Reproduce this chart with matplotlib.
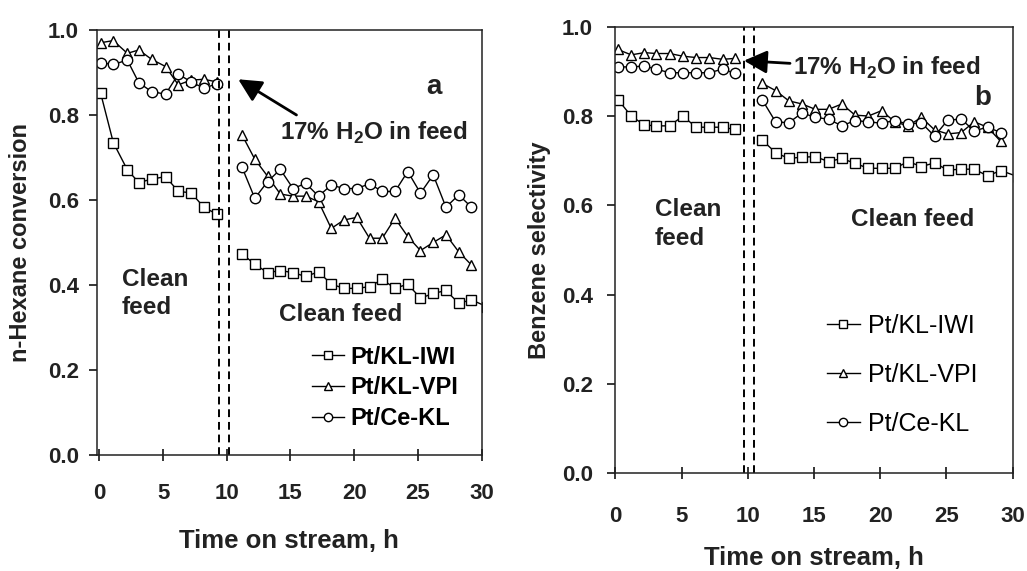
import matplotlib
matplotlib.use("Agg")
import matplotlib.pyplot as plt

plt.rcParams['font.family'] = ['Liberation Sans', 'DejaVu Sans']
plt.rcParams['mathtext.fontset'] = 'custom'
plt.rcParams['mathtext.rm'] = 'Liberation Sans'
plt.rcParams['mathtext.bf'] = 'Liberation Sans:bold'

# ---- (a) n-hexane conversion ----
t_a1 = [0.1, 1.1, 2.2, 3.1, 4.1, 5.2, 6.2, 7.2, 8.2, 9.2]
t_a2 = [11.2, 12.2, 13.2, 14.2, 15.2, 16.2, 17.2, 18.2, 19.2, 20.2,
        21.2, 22.2, 23.2, 24.2, 25.2, 26.2, 27.2, 28.2, 29.2]
t_a2_iwi = t_a2 + [30.4]

conv_iwi_1 = [0.852, 0.735, 0.671, 0.641, 0.649, 0.655, 0.620, 0.617, 0.583, 0.567]
conv_vpi_1 = [0.970, 0.975, 0.945, 0.953, 0.931, 0.914, 0.871, 0.882, 0.884, 0.878]
conv_ce_1 = [0.923, 0.919, 0.929, 0.876, 0.855, 0.849, 0.896, 0.878, 0.863, 0.873]

conv_iwi_2 = [0.473, 0.449, 0.429, 0.434, 0.429, 0.420, 0.431, 0.402, 0.392, 0.392,
              0.396, 0.413, 0.392, 0.402, 0.369, 0.380, 0.387, 0.357, 0.365, 0.349]
conv_vpi_2 = [0.753, 0.696, 0.656, 0.614, 0.609, 0.609, 0.596, 0.533, 0.553, 0.559,
              0.510, 0.510, 0.557, 0.514, 0.481, 0.500, 0.518, 0.478, 0.447]
conv_ce_2 = [0.677, 0.604, 0.643, 0.672, 0.627, 0.639, 0.609, 0.635, 0.627, 0.627,
             0.638, 0.620, 0.620, 0.667, 0.616, 0.659, 0.583, 0.612, 0.583]

# ---- (b) benzene selectivity ----
t_b1 = [0.2, 1.2, 2.2, 3.1, 4.1, 5.1, 6.1, 7.1, 8.1, 9.0]
t_b2 = [11.1, 12.1, 13.1, 14.1, 15.1, 16.1, 17.1, 18.1, 19.1, 20.1,
        21.1, 22.1, 23.1, 24.1, 25.1, 26.1, 27.1, 28.1, 29.1]
t_b2_iwi = t_b2 + [30.5]

sel_iwi_1 = [0.837, 0.800, 0.780, 0.778, 0.778, 0.800, 0.775, 0.775, 0.775, 0.770]
sel_vpi_1 = [0.949, 0.937, 0.942, 0.940, 0.940, 0.934, 0.931, 0.931, 0.927, 0.929]
sel_ce_1 = [0.910, 0.910, 0.912, 0.905, 0.897, 0.897, 0.897, 0.897, 0.905, 0.896]

sel_iwi_2 = [0.746, 0.718, 0.705, 0.708, 0.709, 0.698, 0.705, 0.694, 0.683, 0.683,
             0.683, 0.698, 0.687, 0.695, 0.679, 0.681, 0.681, 0.666, 0.678, 0.663]
sel_vpi_2 = [0.873, 0.857, 0.834, 0.827, 0.815, 0.815, 0.827, 0.802, 0.800, 0.812,
             0.787, 0.778, 0.797, 0.769, 0.760, 0.763, 0.787, 0.775, 0.743]
sel_ce_2 = [0.836, 0.787, 0.785, 0.807, 0.797, 0.793, 0.778, 0.790, 0.787, 0.784,
            0.790, 0.782, 0.785, 0.755, 0.791, 0.793, 0.767, 0.775, 0.763]

labels = ['Pt/KL-IWI', 'Pt/KL-VPI', 'Pt/Ce-KL']
markers = ['s', '^', 'o']
x_ticks = [0, 5, 10, 15, 20, 25, 30]
y_ticks = [0.0, 0.2, 0.4, 0.6, 0.8, 1.0]
y_ticklabels = ['0.0', '0.2', '0.4', '0.6', '0.8', '1.0']

water_a = (9.4, 10.2)
water_b = (9.7, 10.5)

style = dict(color='black', lw=1.0, mfc='white', mec='black', mew=1.0)
msize = {'s': 6.5, '^': 7.5, 'o': 7.5}

fig = plt.figure(figsize=(10.27, 5.71), dpi=100)
axL = fig.add_axes([0.0942, 0.2032, 0.3748, 0.7443])
axR = fig.add_axes([0.5991, 0.1711, 0.3870, 0.7821])


def draw_series(ax, t1, t2, t2_iwi, s1, s2):
    handles = []
    for i, (m, a, b) in enumerate(zip(markers, s1, s2)):
        tt2 = t2_iwi if i == 0 else t2
        h, = ax.plot(t1, a, marker=m, ms=msize[m], label=labels[i], **style)
        ax.plot(tt2, b, marker=m, ms=msize[m], **style)
        handles.append(h)
    return handles


def frame(ax, xlim, xpad, ypad):
    ax.set_xlim(*xlim)
    ax.set_ylim(0, 1.0)
    ax.set_xticks(x_ticks)
    ax.set_yticks(y_ticks)
    ax.set_yticklabels(y_ticklabels)
    for s in ax.spines.values():
        s.set_linewidth(1.1)
        s.set_color('#222222')
    ax.tick_params(axis='x', direction='inout', length=9, width=1.1,
                   pad=xpad, labelsize=16)
    ax.tick_params(axis='y', direction='out', length=6, width=1.1,
                   pad=ypad, labelsize=16)
    for lab in ax.get_xticklabels() + ax.get_yticklabels():
        lab.set_fontweight('bold')
        lab.set_color('#222222')


# ---------------- left panel ----------------
hL = draw_series(axL, t_a1, t_a2, t_a2_iwi,
                 [conv_iwi_1, conv_vpi_1, conv_ce_1],
                 [conv_iwi_2, conv_vpi_2, conv_ce_2])
for xv in water_a:
    axL.axvline(xv, color='black', lw=1.4, ls=(0, (4, 2.5)))
frame(axL, (-0.2, 30), 16, 7)
axL.set_xlabel('Time on stream, h', fontsize=18.5, fontweight='bold', color='#222222')
axL.xaxis.set_label_coords(0.5, -0.174)
axL.set_ylabel('n-Hexane conversion', fontsize=17, fontweight='bold', color='#222222')
axL.yaxis.set_label_coords(-0.168, 0.5)

tk = dict(fontsize=17.5, fontweight='bold', color='#222222')
axL.text(1.76, 0.38, 'Clean\nfeed', ha='left', va='center', linespacing=1.3, **tk)
axL.text(14.1, 0.33, 'Clean feed', ha='left', va='center', **tk)
axL.text(26.25, 0.866, 'a', ha='center', va='center', fontsize=20,
         fontweight='bold', color='#222222')
axL.text(14.2, 0.758, r'17% H$_\mathbf{2}$O in feed', ha='left', va='center', **tk)
axL.annotate('', xy=(10.9, 0.884), xytext=(15.47, 0.80),
             arrowprops=dict(arrowstyle='-|>,head_length=1.0,head_width=0.5',
                             color='black', lw=2.0, mutation_scale=14,
                             shrinkA=0, shrinkB=0))
axL.legend(handles=hL, loc='upper left', bbox_to_anchor=(0.528, 0.285),
           frameon=False, borderpad=0, handlelength=1.35, handletextpad=0.3,
           labelspacing=0.33, markerscale=0.8,
           prop=dict(family='Liberation Sans', weight='bold', size=17))

# ---------------- right panel ----------------
hR = draw_series(axR, t_b1, t_b2, t_b2_iwi,
                 [sel_iwi_1, sel_vpi_1, sel_ce_1],
                 [sel_iwi_2, sel_vpi_2, sel_ce_2])
for xv in water_b:
    axR.axvline(xv, color='black', lw=1.4, ls=(0, (4, 2.5)))
frame(axR, (0, 30), 19, 10)
axR.set_xlabel('Time on stream, h', fontsize=18.5, fontweight='bold', color='#222222')
axR.xaxis.set_label_coords(0.5, -0.163)
axR.set_ylabel('Benzene selectivity', fontsize=17, fontweight='bold', color='#222222')
axR.yaxis.set_label_coords(-0.162, 0.5)

axR.text(3.0, 0.558, 'Clean\nfeed', ha='left', va='center', linespacing=1.3, **tk)
axR.text(17.8, 0.569, 'Clean feed', ha='left', va='center', **tk)
axR.text(27.75, 0.84, 'b', ha='center', va='center', fontsize=20,
         fontweight='bold', color='#222222')
axR.text(13.4, 0.907, r'17% H$_\mathbf{2}$O in feed', ha='left', va='center', **tk)
axR.annotate('', xy=(9.71, 0.924), xytext=(13.19, 0.918),
             arrowprops=dict(arrowstyle='-|>,head_length=1.0,head_width=0.5',
                             color='black', lw=2.0, mutation_scale=14,
                             shrinkA=0, shrinkB=0))
axR.legend(handles=hR, loc='upper left', bbox_to_anchor=(0.50, 0.385),
           frameon=False, borderpad=0, handlelength=1.35, handletextpad=0.3,
           labelspacing=1.0, markerscale=0.8,
           prop=dict(family='Liberation Sans', size=18))

fig.savefig('out.png', dpi=100)
